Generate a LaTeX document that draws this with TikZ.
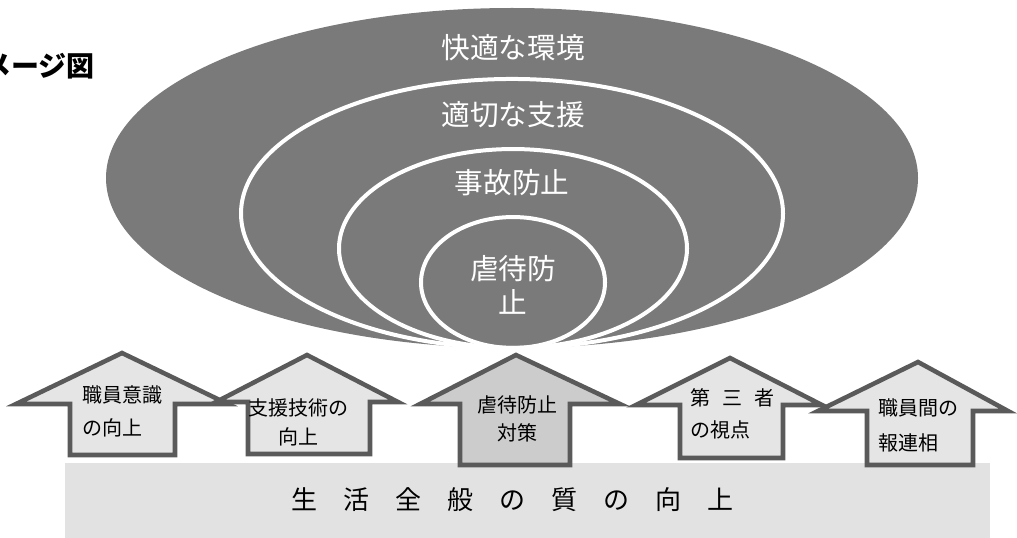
\documentclass[tikz,border=0pt]{standalone}
\usepackage{fontspec}
\setmainfont{Noto Sans CJK JP}
\definecolor{elgray}{RGB}{122,122,122}
\definecolor{arrowline}{RGB}{90,90,90}
\definecolor{arrowfill}{RGB}{229,229,229}
\definecolor{arrowdark}{RGB}{204,204,204}
\definecolor{barfill}{RGB}{226,226,226}
\newcommand{\widesp}[1]{\spaceskip=#1\relax\xspaceskip=#1\relax}
\begin{document}
\begin{tikzpicture}[x=0.75pt,y=-0.75pt,
  ring/.style={draw=white,line width=3pt},
  eltext/.style={text=white,inner sep=0pt,font=\fontsize{21.5}{25.5}\selectfont,align=center},
  arrowbox/.style={draw=arrowline,line width=3.4pt,fill=arrowfill,line join=miter},
  arrowtext/.style={inner sep=0pt},
]
\useasboundingbox (0,0) rectangle (1017,538);
% title
\node[anchor=east,inner sep=0pt,font=\fontsize{21}{22}\selectfont\bfseries] (title) at (95,66) {イメージ図};
% ellipses
\fill[elgray] (512,178) ellipse [x radius=304.5pt, y radius=127.5pt];
\draw[ring] (512,213.5) ellipse [x radius=203.25pt, y radius=100.9pt];
\draw[ring] (513,248.5) ellipse [x radius=130.5pt, y radius=74.6pt];
\draw[ring] (513,282.5) ellipse [x radius=69pt, y radius=49.1pt];
\node[eltext] (e1) at (513,48) {快適な環境};
\node[eltext] (e2) at (513,115) {適切な支援};
\node[eltext] (e3) at (512,183) {事故防止};
\node[eltext] (e4) at (513,285) {虐待防\\止};
% base bar
\fill[barfill] (65,463) rectangle (990,538);
\node[inner sep=0pt,font=\fontsize{19.5}{22}\selectfont] (base) at (512,500) {\widesp{1.0em}生 活 全 般 の 質 の 向 上};
% arrows
\draw[arrowbox] (122,353) -- (228,404) -- (175,404) -- (175,455) -- (70,455) -- (70,404) -- (16,404) -- cycle;
\draw[arrowbox] (307,355) -- (398,402) -- (370,402) -- (370,454) -- (248,454) -- (248,402) -- (216,402) -- cycle;
\draw[arrowbox] (730,358) -- (822,405) -- (783,405) -- (783,458) -- (680,458) -- (680,405) -- (636,405) -- cycle;
\draw[arrowbox] (918,362) -- (1008,411) -- (973,411) -- (973,465) -- (867,465) -- (867,411) -- (818,411) -- cycle;
\draw[arrowbox,fill=arrowdark] (516,355) -- (620,404) -- (570,404) -- (570,465) -- (460,465) -- (460,404) -- (420,404) -- cycle;
% arrow labels
\node[arrowtext,anchor=west,align=left,font=\fontsize{15}{24.75}\selectfont] (a1) at (82,411.5) {職員意識\\の向上};
\node[arrowtext,align=center,font=\fontsize{15}{22}\selectfont] (a2) at (298,422.5) {支援技術の\\向上};
\node[arrowtext,align=center,font=\fontsize{15}{21}\selectfont] (a3) at (517,419) {虐待防止\\対策};
\node[arrowtext,anchor=west,align=left,font=\fontsize{15}{24}\selectfont] (a4) at (690,414) {\widesp{0.6em}第 三 者\\の視点};
\node[arrowtext,anchor=west,align=left,font=\fontsize{15}{26}\selectfont] (a5) at (878,425.5) {職員間の\\報連相};
\end{tikzpicture}
\end{document}
